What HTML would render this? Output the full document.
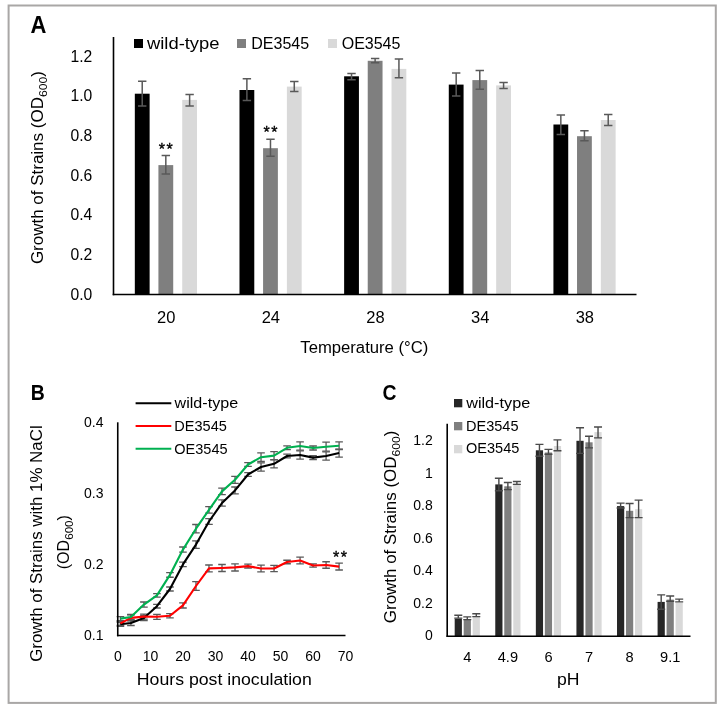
<!DOCTYPE html>
<html><head><meta charset="utf-8"><style>
html,body{margin:0;padding:0;background:#fff;}
svg{display:block;} .wrap{will-change:transform;width:725px;height:710px;}
text{font-family:"Liberation Sans", sans-serif;}
</style></head><body><div class="wrap">
<svg width="725" height="710" viewBox="0 0 725 710">
<rect width="725" height="710" fill="#fff"/>
<rect x="8.6" y="5.5" width="707.2" height="697.4" fill="none" stroke="#a9a7a6" stroke-width="2"/>
<rect x="134.82" y="93.70" width="14.80" height="200.80" fill="#000000"/>
<rect x="158.42" y="165.10" width="14.80" height="129.40" fill="#7f7f7f"/>
<rect x="182.22" y="99.90" width="14.80" height="194.60" fill="#d9d9d9"/>
<rect x="239.48" y="90.00" width="14.80" height="204.50" fill="#000000"/>
<rect x="263.08" y="148.20" width="14.80" height="146.30" fill="#7f7f7f"/>
<rect x="286.88" y="86.60" width="14.80" height="207.90" fill="#d9d9d9"/>
<rect x="344.13" y="76.30" width="14.80" height="218.20" fill="#000000"/>
<rect x="367.73" y="60.80" width="14.80" height="233.70" fill="#7f7f7f"/>
<rect x="391.53" y="68.90" width="14.80" height="225.60" fill="#d9d9d9"/>
<rect x="448.78" y="84.60" width="14.80" height="209.90" fill="#000000"/>
<rect x="472.38" y="80.10" width="14.80" height="214.40" fill="#7f7f7f"/>
<rect x="496.18" y="85.40" width="14.80" height="209.10" fill="#d9d9d9"/>
<rect x="553.43" y="124.50" width="14.80" height="170.00" fill="#000000"/>
<rect x="577.03" y="136.20" width="14.80" height="158.30" fill="#7f7f7f"/>
<rect x="600.83" y="120.00" width="14.80" height="174.50" fill="#d9d9d9"/>
<path d="M138.03 81.30H146.42M142.22 81.30V105.90M138.03 105.90H146.42" stroke="#595959" stroke-width="1.5" fill="none"/>
<path d="M161.62 155.50H170.02M165.82 155.50V174.10M161.62 174.10H170.02" stroke="#595959" stroke-width="1.5" fill="none"/>
<path d="M185.43 94.60H193.82M189.62 94.60V105.90M185.43 105.90H193.82" stroke="#595959" stroke-width="1.5" fill="none"/>
<path d="M242.68 78.70H251.08M246.88 78.70V100.60M242.68 100.60H251.08" stroke="#595959" stroke-width="1.5" fill="none"/>
<path d="M266.28 139.30H274.68M270.48 139.30V156.20M266.28 156.20H274.68" stroke="#595959" stroke-width="1.5" fill="none"/>
<path d="M290.08 81.50H298.48M294.28 81.50V91.40M290.08 91.40H298.48" stroke="#595959" stroke-width="1.5" fill="none"/>
<path d="M347.33 73.50H355.73M351.53 73.50V79.70M347.33 79.70H355.73" stroke="#595959" stroke-width="1.5" fill="none"/>
<path d="M370.93 58.60H379.32M375.12 58.60V62.80M370.93 62.80H379.32" stroke="#595959" stroke-width="1.5" fill="none"/>
<path d="M394.73 59.00H403.12M398.93 59.00V77.70M394.73 77.70H403.12" stroke="#595959" stroke-width="1.5" fill="none"/>
<path d="M451.98 73.00H460.38M456.18 73.00V95.90M451.98 95.90H460.38" stroke="#595959" stroke-width="1.5" fill="none"/>
<path d="M475.58 70.60H483.98M479.78 70.60V89.30M475.58 89.30H483.98" stroke="#595959" stroke-width="1.5" fill="none"/>
<path d="M499.38 82.50H507.78M503.58 82.50V88.60M499.38 88.60H507.78" stroke="#595959" stroke-width="1.5" fill="none"/>
<path d="M556.62 115.10H565.03M560.83 115.10V134.40M556.62 134.40H565.03" stroke="#595959" stroke-width="1.5" fill="none"/>
<path d="M580.23 130.80H588.63M584.43 130.80V140.70M580.23 140.70H588.63" stroke="#595959" stroke-width="1.5" fill="none"/>
<path d="M604.02 114.60H612.43M608.23 114.60V125.60M604.02 125.60H612.43" stroke="#595959" stroke-width="1.5" fill="none"/>
<line x1="113.50" y1="37.00" x2="113.50" y2="295.30" stroke="#000" stroke-width="1.6"/>
<line x1="112.70" y1="294.50" x2="636.50" y2="294.50" stroke="#000" stroke-width="1.6"/>
<text x="92.30" y="299.50" font-size="16.5" text-anchor="end" font-weight="normal" fill="#000"  textLength="21.8" lengthAdjust="spacingAndGlyphs">0.0</text>
<text x="92.30" y="259.87" font-size="16.5" text-anchor="end" font-weight="normal" fill="#000"  textLength="21.8" lengthAdjust="spacingAndGlyphs">0.2</text>
<text x="92.30" y="220.24" font-size="16.5" text-anchor="end" font-weight="normal" fill="#000"  textLength="21.8" lengthAdjust="spacingAndGlyphs">0.4</text>
<text x="92.30" y="180.61" font-size="16.5" text-anchor="end" font-weight="normal" fill="#000"  textLength="21.8" lengthAdjust="spacingAndGlyphs">0.6</text>
<text x="92.30" y="140.98" font-size="16.5" text-anchor="end" font-weight="normal" fill="#000"  textLength="21.8" lengthAdjust="spacingAndGlyphs">0.8</text>
<text x="92.30" y="101.35" font-size="16.5" text-anchor="end" font-weight="normal" fill="#000"  textLength="21.8" lengthAdjust="spacingAndGlyphs">1.0</text>
<text x="92.30" y="61.72" font-size="16.5" text-anchor="end" font-weight="normal" fill="#000"  textLength="21.8" lengthAdjust="spacingAndGlyphs">1.2</text>
<text x="166.22" y="322.60" font-size="16.5" text-anchor="middle" font-weight="normal" fill="#000" >20</text>
<text x="270.88" y="322.60" font-size="16.5" text-anchor="middle" font-weight="normal" fill="#000" >24</text>
<text x="375.53" y="322.60" font-size="16.5" text-anchor="middle" font-weight="normal" fill="#000" >28</text>
<text x="480.18" y="322.60" font-size="16.5" text-anchor="middle" font-weight="normal" fill="#000" >34</text>
<text x="584.83" y="322.60" font-size="16.5" text-anchor="middle" font-weight="normal" fill="#000" >38</text>
<text x="364.30" y="352.50" font-size="16" text-anchor="middle" font-weight="normal" fill="#000"  textLength="128" lengthAdjust="spacingAndGlyphs">Temperature (°C)</text>
<text x="165.80" y="155.00" font-size="16" text-anchor="middle" font-weight="normal" fill="#000" stroke="#000" stroke-width="0.35" textLength="14" lengthAdjust="spacing">**</text>
<text x="270.50" y="138.30" font-size="16" text-anchor="middle" font-weight="normal" fill="#000" stroke="#000" stroke-width="0.35" textLength="14" lengthAdjust="spacing">**</text>
<text transform="translate(43.4,167.6) rotate(-90)" font-size="16" text-anchor="middle" fill="#000" textLength="193" lengthAdjust="spacingAndGlyphs">Growth of Strains (OD<tspan font-size="11.5" dy="4">600</tspan><tspan dy="-4">)</tspan></text>
<rect x="134.00" y="39.00" width="9.00" height="9.00" fill="#000000"/>
<text x="147.00" y="48.50" font-size="16" text-anchor="start" font-weight="normal" fill="#000"  textLength="72.5" lengthAdjust="spacingAndGlyphs">wild-type</text>
<rect x="237.00" y="39.00" width="9.00" height="9.00" fill="#7f7f7f"/>
<text x="251.30" y="48.60" font-size="16" text-anchor="start" font-weight="normal" fill="#000" >DE3545</text>
<rect x="328.00" y="39.00" width="9.00" height="9.00" fill="#d9d9d9"/>
<text x="341.70" y="48.60" font-size="16" text-anchor="start" font-weight="normal" fill="#000" >OE3545</text>
<text x="30.60" y="32.60" font-size="23.5" text-anchor="start" font-weight="bold" fill="#000"  textLength="15.9" lengthAdjust="spacingAndGlyphs">A</text>
<path d="M116.64 622.30H124.24M120.44 622.30V626.30M116.64 626.30H124.24" stroke="#595959" stroke-width="1.3" fill="none"/>
<path d="M127.11 620.50H134.71M130.91 620.50V625.50M127.11 625.50H134.71" stroke="#595959" stroke-width="1.3" fill="none"/>
<path d="M140.12 615.50H147.72M143.92 615.50V620.50M140.12 620.50H147.72" stroke="#595959" stroke-width="1.3" fill="none"/>
<path d="M153.14 604.40H160.74M156.94 604.40V608.00M153.14 608.00H160.74" stroke="#595959" stroke-width="1.3" fill="none"/>
<path d="M166.15 587.00H173.75M169.95 587.00V591.00M166.15 591.00H173.75" stroke="#595959" stroke-width="1.3" fill="none"/>
<path d="M179.16 562.10H186.76M182.96 562.10V566.70M179.16 566.70H186.76" stroke="#595959" stroke-width="1.3" fill="none"/>
<path d="M192.17 540.90H199.77M195.97 540.90V548.30M192.17 548.30H199.77" stroke="#595959" stroke-width="1.3" fill="none"/>
<path d="M205.18 518.60H212.78M208.98 518.60V524.40M205.18 524.40H212.78" stroke="#595959" stroke-width="1.3" fill="none"/>
<path d="M218.20 499.80H225.80M222.00 499.80V506.20M218.20 506.20H225.80" stroke="#595959" stroke-width="1.3" fill="none"/>
<path d="M231.21 487.00H238.81M235.01 487.00V493.80M231.21 493.80H238.81" stroke="#595959" stroke-width="1.3" fill="none"/>
<path d="M244.22 472.70H251.82M248.02 472.70V476.30M244.22 476.30H251.82" stroke="#595959" stroke-width="1.3" fill="none"/>
<path d="M257.23 462.80H264.83M261.03 462.80V471.20M257.23 471.20H264.83" stroke="#595959" stroke-width="1.3" fill="none"/>
<path d="M270.24 459.80H277.84M274.04 459.80V467.80M270.24 467.80H277.84" stroke="#595959" stroke-width="1.3" fill="none"/>
<path d="M283.26 454.10H290.86M287.06 454.10V457.90M283.26 457.90H290.86" stroke="#595959" stroke-width="1.3" fill="none"/>
<path d="M296.27 450.90H303.87M300.07 450.90V459.10M296.27 459.10H303.87" stroke="#595959" stroke-width="1.3" fill="none"/>
<path d="M309.28 455.70H316.88M313.08 455.70V459.50M309.28 459.50H316.88" stroke="#595959" stroke-width="1.3" fill="none"/>
<path d="M322.29 451.80H329.89M326.09 451.80V460.20M322.29 460.20H329.89" stroke="#595959" stroke-width="1.3" fill="none"/>
<path d="M335.30 449.10H342.90M339.10 449.10V457.10M335.30 457.10H342.90" stroke="#595959" stroke-width="1.3" fill="none"/>
<path d="M116.64 616.60H124.24M120.44 616.60V620.60M116.64 620.60H124.24" stroke="#595959" stroke-width="1.3" fill="none"/>
<path d="M127.11 614.50H134.71M130.91 614.50V619.50M127.11 619.50H134.71" stroke="#595959" stroke-width="1.3" fill="none"/>
<path d="M140.12 602.00H147.72M143.92 602.00V607.20M140.12 607.20H147.72" stroke="#595959" stroke-width="1.3" fill="none"/>
<path d="M153.14 593.60H160.74M156.94 593.60V597.20M153.14 597.20H160.74" stroke="#595959" stroke-width="1.3" fill="none"/>
<path d="M166.15 572.55H173.75M169.95 572.55V577.25M166.15 577.25H173.75" stroke="#595959" stroke-width="1.3" fill="none"/>
<path d="M179.16 547.00H186.76M182.96 547.00V552.20M179.16 552.20H186.76" stroke="#595959" stroke-width="1.3" fill="none"/>
<path d="M192.17 524.50H199.77M195.97 524.50V532.90M192.17 532.90H199.77" stroke="#595959" stroke-width="1.3" fill="none"/>
<path d="M205.18 506.70H212.78M208.98 506.70V513.10M205.18 513.10H212.78" stroke="#595959" stroke-width="1.3" fill="none"/>
<path d="M218.20 488.20H225.80M222.00 488.20V494.60M218.20 494.60H225.80" stroke="#595959" stroke-width="1.3" fill="none"/>
<path d="M231.21 476.30H238.81M235.01 476.30V483.30M231.21 483.30H238.81" stroke="#595959" stroke-width="1.3" fill="none"/>
<path d="M244.22 462.70H251.82M248.02 462.70V466.30M244.22 466.30H251.82" stroke="#595959" stroke-width="1.3" fill="none"/>
<path d="M257.23 452.90H264.83M261.03 452.90V461.50M257.23 461.50H264.83" stroke="#595959" stroke-width="1.3" fill="none"/>
<path d="M270.24 451.60H277.84M274.04 451.60V459.60M270.24 459.60H277.84" stroke="#595959" stroke-width="1.3" fill="none"/>
<path d="M283.26 445.90H290.86M287.06 445.90V449.70M283.26 449.70H290.86" stroke="#595959" stroke-width="1.3" fill="none"/>
<path d="M296.27 441.90H303.87M300.07 441.90V450.10M296.27 450.10H303.87" stroke="#595959" stroke-width="1.3" fill="none"/>
<path d="M309.28 446.00H316.88M313.08 446.00V450.00M309.28 450.00H316.88" stroke="#595959" stroke-width="1.3" fill="none"/>
<path d="M322.29 442.20H329.89M326.09 442.20V451.20M322.29 451.20H329.89" stroke="#595959" stroke-width="1.3" fill="none"/>
<path d="M335.30 441.90H342.90M339.10 441.90V449.50M335.30 449.50H342.90" stroke="#595959" stroke-width="1.3" fill="none"/>
<path d="M116.64 621.40H124.24M120.44 621.40V625.40M116.64 625.40H124.24" stroke="#595959" stroke-width="1.3" fill="none"/>
<path d="M127.11 614.90H134.71M130.91 614.90V620.90M127.11 620.90H134.71" stroke="#595959" stroke-width="1.3" fill="none"/>
<path d="M140.12 614.10H147.72M143.92 614.10V619.10M140.12 619.10H147.72" stroke="#595959" stroke-width="1.3" fill="none"/>
<path d="M153.14 614.30H160.74M156.94 614.30V619.30M153.14 619.30H160.74" stroke="#595959" stroke-width="1.3" fill="none"/>
<path d="M166.15 613.70H173.75M169.95 613.70V617.90M166.15 617.90H173.75" stroke="#595959" stroke-width="1.3" fill="none"/>
<path d="M179.16 602.80H186.76M182.96 602.80V608.00M179.16 608.00H186.76" stroke="#595959" stroke-width="1.3" fill="none"/>
<path d="M192.17 581.60H199.77M195.97 581.60V590.40M192.17 590.40H199.77" stroke="#595959" stroke-width="1.3" fill="none"/>
<path d="M205.18 565.00H212.78M208.98 565.00V571.80M205.18 571.80H212.78" stroke="#595959" stroke-width="1.3" fill="none"/>
<path d="M218.20 564.50H225.80M222.00 564.50V571.50M218.20 571.50H225.80" stroke="#595959" stroke-width="1.3" fill="none"/>
<path d="M231.21 563.80H238.81M235.01 563.80V571.00M231.21 571.00H238.81" stroke="#595959" stroke-width="1.3" fill="none"/>
<path d="M244.22 564.20H251.82M248.02 564.20V568.00M244.22 568.00H251.82" stroke="#595959" stroke-width="1.3" fill="none"/>
<path d="M257.23 565.10H264.83M261.03 565.10V571.90M257.23 571.90H264.83" stroke="#595959" stroke-width="1.3" fill="none"/>
<path d="M270.24 565.30H277.84M274.04 565.30V571.70M270.24 571.70H277.84" stroke="#595959" stroke-width="1.3" fill="none"/>
<path d="M283.26 560.25H290.86M287.06 560.25V563.75M283.26 563.75H290.86" stroke="#595959" stroke-width="1.3" fill="none"/>
<path d="M296.27 557.10H303.87M300.07 557.10V563.90M296.27 563.90H303.87" stroke="#595959" stroke-width="1.3" fill="none"/>
<path d="M309.28 563.80H316.88M313.08 563.80V567.20M309.28 567.20H316.88" stroke="#595959" stroke-width="1.3" fill="none"/>
<path d="M322.29 561.75H329.89M326.09 561.75V568.25M322.29 568.25H329.89" stroke="#595959" stroke-width="1.3" fill="none"/>
<path d="M335.30 563.20H342.90M339.10 563.20V570.00M335.30 570.00H342.90" stroke="#595959" stroke-width="1.3" fill="none"/>
<polyline points="120.44,624.30 130.91,623.00 143.92,618.00 156.94,606.20 169.95,589.00 182.96,564.40 195.97,544.60 208.98,521.50 222.00,503.00 235.01,490.40 248.02,474.50 261.03,467.00 274.04,463.80 287.06,456.00 300.07,455.00 313.08,457.60 326.09,456.00 339.10,453.10" fill="none" stroke="#000000" stroke-width="2.1" stroke-linejoin="round"/>
<polyline points="120.44,623.40 130.91,617.90 143.92,616.60 156.94,616.80 169.95,615.80 182.96,605.40 195.97,586.00 208.98,568.40 222.00,568.00 235.01,567.40 248.02,566.10 261.03,568.50 274.04,568.50 287.06,562.00 300.07,560.50 313.08,565.50 326.09,565.00 339.10,566.60" fill="none" stroke="#ff0000" stroke-width="2.1" stroke-linejoin="round"/>
<polyline points="120.44,618.60 130.91,617.00 143.92,604.60 156.94,595.40 169.95,574.90 182.96,549.60 195.97,528.70 208.98,509.90 222.00,491.40 235.01,479.80 248.02,464.50 261.03,457.20 274.04,455.60 287.06,447.80 300.07,446.00 313.08,448.00 326.09,446.70 339.10,445.70" fill="none" stroke="#00b050" stroke-width="2.1" stroke-linejoin="round"/>
<line x1="117.75" y1="422.30" x2="117.75" y2="636.30" stroke="#000" stroke-width="1.6"/>
<line x1="116.95" y1="635.50" x2="345.50" y2="635.50" stroke="#000" stroke-width="1.6"/>
<text x="103.50" y="639.60" font-size="14" text-anchor="end" font-weight="normal" fill="#000" >0.1</text>
<text x="103.50" y="568.70" font-size="14" text-anchor="end" font-weight="normal" fill="#000" >0.2</text>
<text x="103.50" y="497.80" font-size="14" text-anchor="end" font-weight="normal" fill="#000" >0.3</text>
<text x="103.50" y="426.90" font-size="14" text-anchor="end" font-weight="normal" fill="#000" >0.4</text>
<text x="117.90" y="661.20" font-size="14" text-anchor="middle" font-weight="normal" fill="#000" >0</text>
<text x="150.43" y="661.20" font-size="14" text-anchor="middle" font-weight="normal" fill="#000" >10</text>
<text x="182.96" y="661.20" font-size="14" text-anchor="middle" font-weight="normal" fill="#000" >20</text>
<text x="215.49" y="661.20" font-size="14" text-anchor="middle" font-weight="normal" fill="#000" >30</text>
<text x="248.02" y="661.20" font-size="14" text-anchor="middle" font-weight="normal" fill="#000" >40</text>
<text x="280.55" y="661.20" font-size="14" text-anchor="middle" font-weight="normal" fill="#000" >50</text>
<text x="313.08" y="661.20" font-size="14" text-anchor="middle" font-weight="normal" fill="#000" >60</text>
<text x="345.61" y="661.20" font-size="14" text-anchor="middle" font-weight="normal" fill="#000" >70</text>
<text x="224.30" y="684.70" font-size="17.2" text-anchor="middle" font-weight="normal" fill="#000"  textLength="175" lengthAdjust="spacingAndGlyphs">Hours post inoculation</text>
<text x="340.00" y="562.60" font-size="16" text-anchor="middle" font-weight="normal" fill="#000" stroke="#000" stroke-width="0.35" textLength="14" lengthAdjust="spacing">**</text>
<text transform="translate(41.8,543.6) rotate(-90)" font-size="16.8" text-anchor="middle" fill="#000" textLength="236.5" lengthAdjust="spacingAndGlyphs">Growth of Strains with 1% NaCl</text>
<text transform="translate(69.2,542.2) rotate(-90)" font-size="16" text-anchor="middle" fill="#000" textLength="54.2" lengthAdjust="spacingAndGlyphs">(OD<tspan font-size="11.5" dy="4">600</tspan><tspan dy="-4">)</tspan></text>
<line x1="135.60" y1="403.30" x2="171.30" y2="403.30" stroke="#000000" stroke-width="2"/>
<line x1="135.60" y1="425.90" x2="171.30" y2="425.90" stroke="#ff0000" stroke-width="2"/>
<line x1="135.60" y1="448.70" x2="171.30" y2="448.70" stroke="#00b050" stroke-width="2"/>
<text x="174.60" y="407.80" font-size="14" text-anchor="start" font-weight="normal" fill="#000"  textLength="63.5" lengthAdjust="spacingAndGlyphs">wild-type</text>
<text x="174.30" y="431.00" font-size="14" text-anchor="start" font-weight="normal" fill="#000"  textLength="52.5" lengthAdjust="spacingAndGlyphs">DE3545</text>
<text x="174.30" y="453.50" font-size="14" text-anchor="start" font-weight="normal" fill="#000"  textLength="53.3" lengthAdjust="spacingAndGlyphs">OE3545</text>
<text x="30.80" y="400.40" font-size="22.3" text-anchor="start" font-weight="bold" fill="#000"  textLength="14.0" lengthAdjust="spacingAndGlyphs">B</text>
<rect x="454.69" y="618.60" width="7.20" height="17.40" fill="#262626"/>
<rect x="463.69" y="619.40" width="7.20" height="16.60" fill="#7f7f7f"/>
<rect x="472.69" y="616.30" width="7.20" height="19.70" fill="#d9d9d9"/>
<rect x="495.27" y="484.40" width="7.20" height="151.60" fill="#262626"/>
<rect x="504.27" y="486.30" width="7.20" height="149.70" fill="#7f7f7f"/>
<rect x="513.27" y="483.50" width="7.20" height="152.50" fill="#d9d9d9"/>
<rect x="535.85" y="450.30" width="7.20" height="185.70" fill="#262626"/>
<rect x="544.85" y="452.50" width="7.20" height="183.50" fill="#7f7f7f"/>
<rect x="553.85" y="446.00" width="7.20" height="190.00" fill="#d9d9d9"/>
<rect x="576.43" y="440.80" width="7.20" height="195.20" fill="#262626"/>
<rect x="585.43" y="442.30" width="7.20" height="193.70" fill="#7f7f7f"/>
<rect x="594.43" y="432.10" width="7.20" height="203.90" fill="#d9d9d9"/>
<rect x="617.01" y="506.10" width="7.20" height="129.90" fill="#262626"/>
<rect x="626.01" y="510.80" width="7.20" height="125.20" fill="#7f7f7f"/>
<rect x="635.01" y="509.20" width="7.20" height="126.80" fill="#d9d9d9"/>
<rect x="657.59" y="601.90" width="7.20" height="34.10" fill="#262626"/>
<rect x="666.59" y="599.60" width="7.20" height="36.40" fill="#7f7f7f"/>
<rect x="675.59" y="602.70" width="7.20" height="33.30" fill="#d9d9d9"/>
<path d="M454.29 615.30H462.29M458.29 615.30V618.10M454.29 618.10H462.29" stroke="#4a4a4a" stroke-width="1.4" fill="none"/>
<path d="M463.29 616.90H471.29M467.29 616.90V619.60M463.29 619.60H471.29" stroke="#4a4a4a" stroke-width="1.4" fill="none"/>
<path d="M472.29 613.70H480.29M476.29 613.70V616.60M472.29 616.60H480.29" stroke="#4a4a4a" stroke-width="1.4" fill="none"/>
<path d="M494.87 478.30H502.87M498.87 478.30V490.70M494.87 490.70H502.87" stroke="#4a4a4a" stroke-width="1.4" fill="none"/>
<path d="M503.87 482.50H511.87M507.87 482.50V489.60M503.87 489.60H511.87" stroke="#4a4a4a" stroke-width="1.4" fill="none"/>
<path d="M512.87 481.50H520.87M516.87 481.50V484.40M512.87 484.40H520.87" stroke="#4a4a4a" stroke-width="1.4" fill="none"/>
<path d="M535.45 444.40H543.45M539.45 444.40V456.20M535.45 456.20H543.45" stroke="#4a4a4a" stroke-width="1.4" fill="none"/>
<path d="M544.45 449.40H552.45M548.45 449.40V454.30M544.45 454.30H552.45" stroke="#4a4a4a" stroke-width="1.4" fill="none"/>
<path d="M553.45 439.90H561.45M557.45 439.90V450.70M553.45 450.70H561.45" stroke="#4a4a4a" stroke-width="1.4" fill="none"/>
<path d="M576.03 427.80H584.03M580.03 427.80V453.40M576.03 453.40H584.03" stroke="#4a4a4a" stroke-width="1.4" fill="none"/>
<path d="M585.03 436.30H593.03M589.03 436.30V447.90M585.03 447.90H593.03" stroke="#4a4a4a" stroke-width="1.4" fill="none"/>
<path d="M594.03 427.00H602.03M598.03 427.00V437.90M594.03 437.90H602.03" stroke="#4a4a4a" stroke-width="1.4" fill="none"/>
<path d="M616.61 503.10H624.61M620.61 503.10V508.00M616.61 508.00H624.61" stroke="#4a4a4a" stroke-width="1.4" fill="none"/>
<path d="M625.61 503.50H633.61M629.61 503.50V517.60M625.61 517.60H633.61" stroke="#4a4a4a" stroke-width="1.4" fill="none"/>
<path d="M634.61 500.10H642.61M638.61 500.10V517.60M634.61 517.60H642.61" stroke="#4a4a4a" stroke-width="1.4" fill="none"/>
<path d="M657.19 594.90H665.19M661.19 594.90V609.30M657.19 609.30H665.19" stroke="#4a4a4a" stroke-width="1.4" fill="none"/>
<path d="M666.19 596.00H674.19M670.19 596.00V601.30M666.19 601.30H674.19" stroke="#4a4a4a" stroke-width="1.4" fill="none"/>
<path d="M675.19 599.10H683.19M679.19 599.10V601.90M675.19 601.90H683.19" stroke="#4a4a4a" stroke-width="1.4" fill="none"/>
<line x1="447.20" y1="423.80" x2="447.20" y2="636.80" stroke="#000" stroke-width="1.6"/>
<line x1="446.40" y1="636.20" x2="690.50" y2="636.20" stroke="#000" stroke-width="1.6"/>
<text x="432.80" y="640.20" font-size="14" text-anchor="end" font-weight="normal" fill="#000" >0</text>
<text x="432.80" y="607.72" font-size="14" text-anchor="end" font-weight="normal" fill="#000" >0.2</text>
<text x="432.80" y="575.24" font-size="14" text-anchor="end" font-weight="normal" fill="#000" >0.4</text>
<text x="432.80" y="542.76" font-size="14" text-anchor="end" font-weight="normal" fill="#000" >0.6</text>
<text x="432.80" y="510.28" font-size="14" text-anchor="end" font-weight="normal" fill="#000" >0.8</text>
<text x="432.80" y="477.80" font-size="14" text-anchor="end" font-weight="normal" fill="#000" >1</text>
<text x="432.80" y="445.32" font-size="14" text-anchor="end" font-weight="normal" fill="#000" >1.2</text>
<text x="467.29" y="661.70" font-size="14.6" text-anchor="middle" font-weight="normal" fill="#000" >4</text>
<text x="507.87" y="661.70" font-size="14.6" text-anchor="middle" font-weight="normal" fill="#000" >4.9</text>
<text x="548.45" y="661.70" font-size="14.6" text-anchor="middle" font-weight="normal" fill="#000" >6</text>
<text x="589.03" y="661.70" font-size="14.6" text-anchor="middle" font-weight="normal" fill="#000" >7</text>
<text x="629.61" y="661.70" font-size="14.6" text-anchor="middle" font-weight="normal" fill="#000" >8</text>
<text x="670.19" y="661.70" font-size="14.6" text-anchor="middle" font-weight="normal" fill="#000" >9.1</text>
<text x="568.20" y="685.20" font-size="16" text-anchor="middle" font-weight="normal" fill="#000"  textLength="22.5" lengthAdjust="spacingAndGlyphs">pH</text>
<text transform="translate(396.0,526.9) rotate(-90)" font-size="16" text-anchor="middle" fill="#000" textLength="192.5" lengthAdjust="spacingAndGlyphs">Growth of Strains (OD<tspan font-size="11.5" dy="4">600</tspan><tspan dy="-4">)</tspan></text>
<rect x="454.00" y="399.00" width="8.30" height="8.30" fill="#262626"/>
<text x="466.20" y="407.70" font-size="14" text-anchor="start" font-weight="normal" fill="#000"  textLength="64" lengthAdjust="spacingAndGlyphs">wild-type</text>
<rect x="454.00" y="422.00" width="8.30" height="8.30" fill="#7f7f7f"/>
<text x="466.00" y="430.70" font-size="14" text-anchor="start" font-weight="normal" fill="#000"  textLength="52.5" lengthAdjust="spacingAndGlyphs">DE3545</text>
<rect x="454.00" y="445.00" width="8.30" height="8.30" fill="#d9d9d9"/>
<text x="466.00" y="453.40" font-size="14" text-anchor="start" font-weight="normal" fill="#000"  textLength="53.3" lengthAdjust="spacingAndGlyphs">OE3545</text>
<text x="382.50" y="400.40" font-size="22.3" text-anchor="start" font-weight="bold" fill="#000"  textLength="14.0" lengthAdjust="spacingAndGlyphs">C</text>
</svg></div>
</body></html>
